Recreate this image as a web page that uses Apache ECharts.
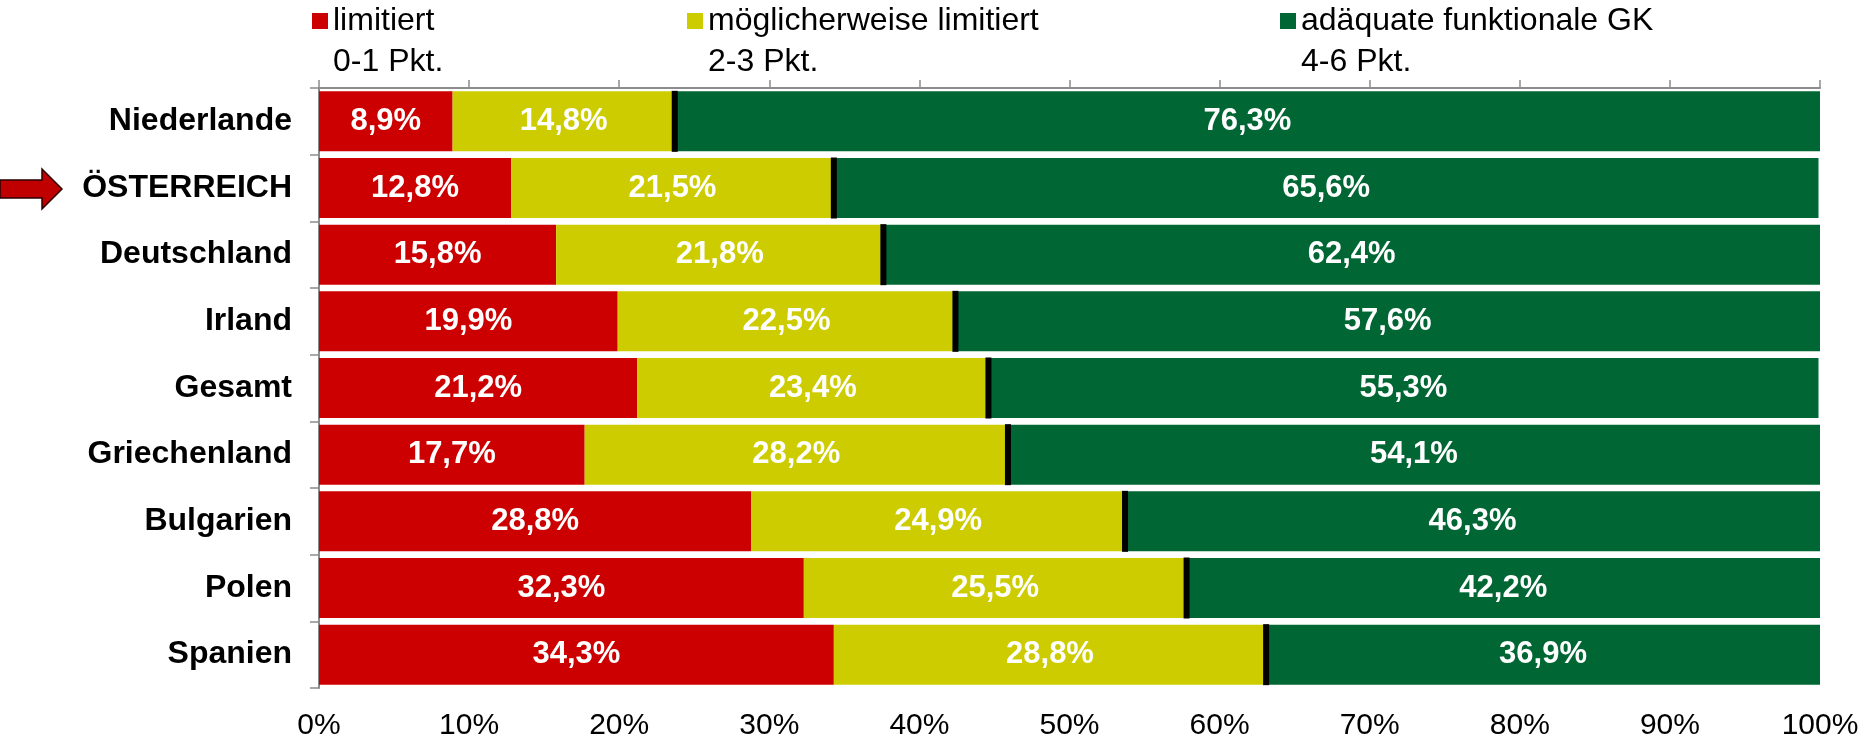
<!DOCTYPE html>
<html>
<head>
<meta charset="utf-8">
<script src="https://cdn.jsdelivr.net/npm/echarts@6/dist/echarts.min.js"></script>
<style>
  html, body { margin: 0; padding: 0; background: #fff; }
  #chart { width: 1876px; height: 741px; }
</style>
</head>
<body>
<div id="chart"></div>
<script>
// Daten
var countries = ['Niederlande', 'ÖSTERREICH', 'Deutschland', 'Irland', 'Gesamt', 'Griechenland', 'Bulgarien', 'Polen', 'Spanien'];
var limitiert = [8.9, 12.8, 15.8, 19.9, 21.2, 17.7, 28.8, 32.3, 34.3];
var moeglich = [14.8, 21.5, 21.8, 22.5, 23.4, 28.2, 24.9, 25.5, 28.8];
var adaequat = [76.3, 65.6, 62.4, 57.6, 55.3, 54.1, 46.3, 42.2, 36.9];
var seriesNames = ['limitiert', 'möglicherweise limitiert', 'adäquate funktionale GK'];
var subLabels = ['0-1 Pkt.', '2-3 Pkt.', '4-6 Pkt.'];
var xTicks = [0, 10, 20, 30, 40, 50, 60, 70, 80, 90, 100];

var FONT = '"Liberation Sans", Arial, sans-serif';
var colors = ['#cc0000', '#cccc00', '#006633'];

var chart = echarts.init(document.getElementById('chart'));

function pct(p) {
  return p.value.toFixed(1).replace('.', ',') + '%';
}

function barSeries(name, data, color) {
  return {
    name: name,
    type: 'bar',
    stack: 'total',
    barWidth: '90%',
    data: data,
    itemStyle: { color: color },
    label: {
      show: true,
      position: 'inside',
      color: '#fff',
      fontFamily: FONT,
      fontWeight: 'bold',
      fontSize: 31,
      formatter: pct
    }
  };
}

// schwarze Trennstriche zwischen gelb und grün
var markers = countries.map(function (c, i) {
  return [limitiert[i] + moeglich[i], c];
});

var legendLefts = [312, 687, 1280];
var legends = seriesNames.map(function (n, i) {
  return {
    data: [n],
    left: legendLefts[i],
    top: 5,
    padding: 0,
    itemWidth: 16,
    itemHeight: 16,
    icon: 'rect',
    selectedMode: false,
    textStyle: { fontFamily: FONT, fontSize: 32, lineHeight: 32, color: '#000' }
  };
});

var subTexts = subLabels.map(function (t, i) {
  return {
    type: 'text',
    left: legendLefts[i] + 21,
    top: 46,
    style: { text: t, font: '32px ' + FONT, fill: '#000' }
  };
});

chart.setOption({
  animation: false,
  legend: legends,
  graphic: subTexts.concat([{
    type: 'polygon',
    shape: { points: [[0, 180], [42, 180], [42, 169], [62, 189], [42, 209], [42, 198], [0, 198]] },
    style: { fill: '#c00000', stroke: '#2a0000', lineWidth: 1.5 }
  }]),
  grid: { left: 319, right: 56, top: 88, bottom: 50 },
  xAxis: [{
    type: 'value',
    position: 'top',
    min: xTicks[0],
    max: xTicks[xTicks.length - 1],
    interval: 10,
    axisLine: { show: true, lineStyle: { color: '#8c8c8c', width: 2 } },
    axisTick: { show: true, length: 8, lineStyle: { color: '#8c8c8c', width: 1.5 } },
    axisLabel: { show: false },
    splitLine: { show: false }
  }, {
    type: 'value',
    position: 'bottom',
    min: xTicks[0],
    max: xTicks[xTicks.length - 1],
    interval: 10,
    axisLine: { show: false },
    axisTick: { show: false },
    axisLabel: {
      formatter: '{value}%',
      margin: 23,
      fontFamily: FONT,
      fontSize: 30,
      color: '#000'
    },
    splitLine: { show: false }
  }],
  yAxis: {
    type: 'category',
    inverse: true,
    data: countries,
    axisLine: { show: true, lineStyle: { color: '#8c8c8c', width: 2 } },
    axisTick: { show: true, length: 9, lineStyle: { color: '#8c8c8c', width: 1.5 } },
    axisLabel: {
      margin: 27,
      fontFamily: FONT,
      fontWeight: 'bold',
      fontSize: 32,
      color: '#000'
    }
  },
  series: [
    barSeries(seriesNames[0], limitiert, colors[0]),
    barSeries(seriesNames[1], moeglich, colors[1]),
    barSeries(seriesNames[2], adaequat, colors[2]),
    {
      type: 'scatter',
      symbol: 'rect',
      symbolSize: [6, 61],
      itemStyle: { color: '#000', opacity: 1 },
      silent: true,
      z: 5,
      data: markers
    }
  ]
});
</script>
</body>
</html>
